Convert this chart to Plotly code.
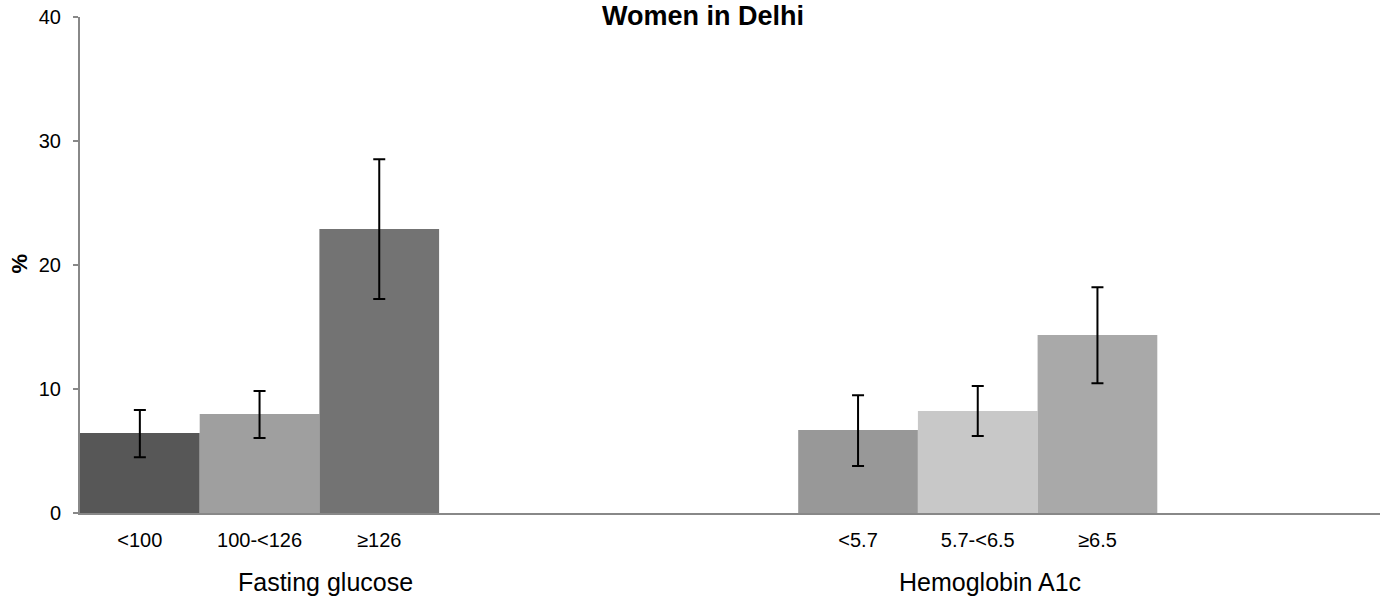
import plotly.graph_objects as go

# Prevalence (%) by category, with 95% CI bounds
glucose_labels = ["<100", "100-<126", "≥126"]
glucose_pct = [6.45, 7.98, 22.9]
glucose_upper = [8.31, 9.84, 28.52]
glucose_lower = [4.49, 6.05, 17.26]

hba1c_labels = ["<5.7", "5.7-<6.5", "≥6.5"]
hba1c_pct = [6.69, 8.23, 14.35]
hba1c_upper = [9.49, 10.24, 18.2]
hba1c_lower = [3.79, 6.21, 10.46]

group_names = ["Fasting glucose", "Hemoglobin A1c"]
y_ticks = [0, 10, 20, 30, 40]

glucose_colors = ["#575757", "#9f9f9f", "#737373"]
hba1c_colors = ["#989898", "#c8c8c8", "#a9a9a9"]

glucose_x = [0.5, 1.5, 2.5]
hba1c_x = [6.5, 7.5, 8.5]

FONT = "Arial, Liberation Sans, sans-serif"

fig = go.Figure()


def add_group(xs, vals, upper, lower, colors):
    fig.add_trace(go.Bar(
        x=xs, y=vals, width=1.0,
        marker=dict(color=colors, line=dict(width=0)),
        error_y=dict(
            type="data", symmetric=False,
            array=[u - v for u, v in zip(upper, vals)],
            arrayminus=[v - l for v, l in zip(vals, lower)],
            color="black", thickness=2, width=6,
        ),
        showlegend=False,
    ))


add_group(glucose_x, glucose_pct, glucose_upper, glucose_lower, glucose_colors)
add_group(hba1c_x, hba1c_pct, hba1c_upper, hba1c_lower, hba1c_colors)

plot_h = 596 - 17 - 83


def py(px):
    # pixel row -> paper y
    return (596 - 83 - px) / plot_h


annotations = [
    dict(text="<b>Women in Delhi</b>", x=(703 - 80) / 1300, xref="paper",
         y=py(0), yref="paper", showarrow=False,
         font=dict(family=FONT, size=27, color="black"),
         xanchor="center", yanchor="top", borderpad=0),
    dict(text="<b>%</b>", x=-(80 - 18.5) / 1300, xref="paper",
         y=py(264), yref="paper", showarrow=False, textangle=-90,
         font=dict(family=FONT, size=22, color="black"),
         xanchor="center", yanchor="middle"),
    dict(text=group_names[0], x=2.05, xref="x",
         y=py(582), yref="paper", showarrow=False,
         font=dict(family=FONT, size=25, color="black"),
         xanchor="center", yanchor="middle"),
    dict(text=group_names[1], x=7.6, xref="x",
         y=py(582), yref="paper", showarrow=False,
         font=dict(family=FONT, size=25, color="black"),
         xanchor="center", yanchor="middle"),
]

fig.update_layout(
    width=1380, height=596,
    margin=dict(l=80, r=0, t=17, b=83, pad=0),
    paper_bgcolor="white", plot_bgcolor="white",
    font=dict(family=FONT, size=20, color="black"),
    barmode="overlay",
    annotations=annotations,
    xaxis=dict(
        range=[0, 1300 / 119.7],
        tickvals=glucose_x + hba1c_x,
        ticktext=glucose_labels + hba1c_labels,
        ticks="", showgrid=False, zeroline=False,
        showline=True, linecolor="#888888", linewidth=2,
        tickfont=dict(family=FONT, size=20, color="black"),
        ticklabelstandoff=8,
    ),
    yaxis=dict(
        range=[0, 40], tickvals=y_ticks,
        ticks="outside", ticklen=5, tickwidth=2, tickcolor="#888888",
        showgrid=False, zeroline=False,
        showline=True, linecolor="#888888", linewidth=2,
        tickfont=dict(family=FONT, size=20, color="black"),
        ticklabelstandoff=8,
    ),
)

fig.write_html("out.html")
